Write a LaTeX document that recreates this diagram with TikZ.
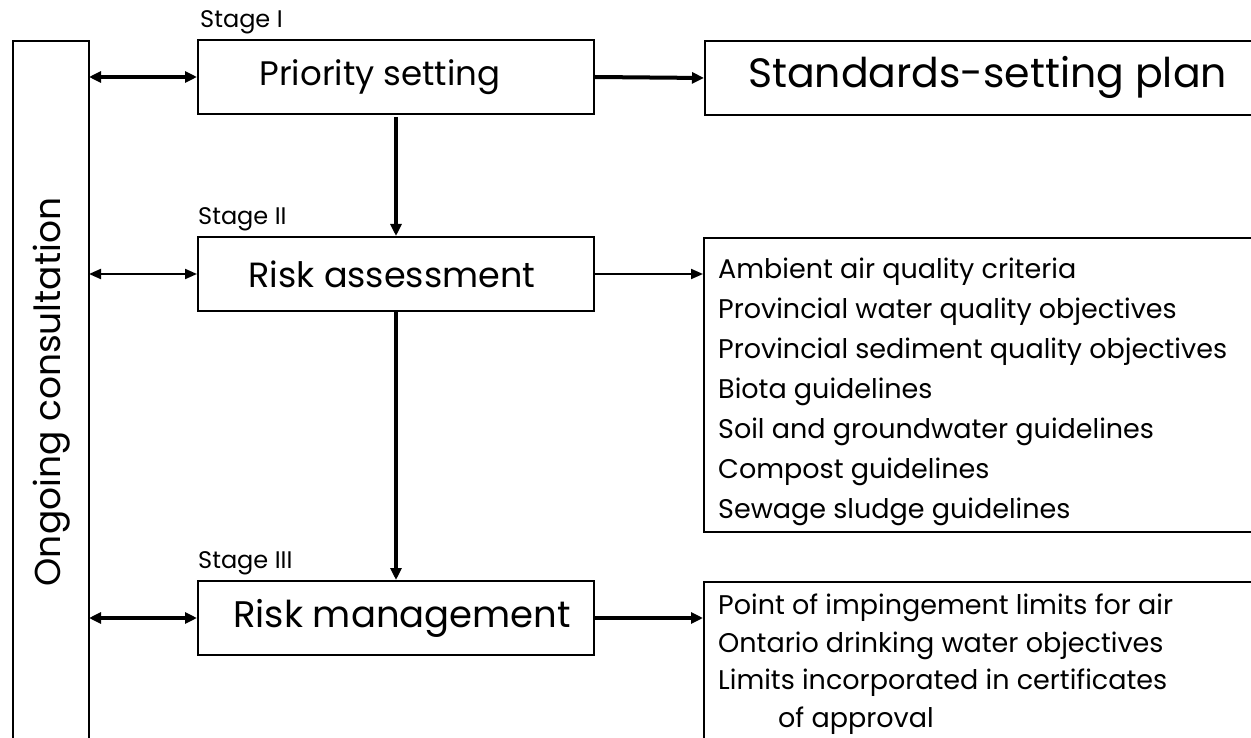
\documentclass[tikz,border=0pt]{standalone}
\usepackage{fontspec}
\setmainfont{Poppins}
\usetikzlibrary{arrows.meta}
\begin{document}
\begin{tikzpicture}[x=1pt,y=-1pt,
  boxline/.style={draw=black,line width=2pt},
  stagebox/.style={boxline,minimum width=396pt,minimum height=74pt,inner sep=0pt,font=\fontsize{34}{40}\selectfont},
  stagelabel/.style={anchor=south west,inner sep=0pt,font=\fontsize{24}{28}\selectfont},
  listtext/.style={anchor=north west,inner sep=0pt,align=left,font=\fontsize{27}{40}\selectfont},
  thickarrow/.style={line width=4pt,-{Triangle[length=12pt,width=11pt]}},
  thinarrow/.style={line width=2pt,-{Triangle[length=12pt,width=10pt]}},
  thickdouble/.style={line width=4pt,{Triangle[length=12pt,width=11pt]}-{Triangle[length=12pt,width=11pt]}},
  thindouble/.style={line width=2pt,{Triangle[length=12pt,width=10pt]}-{Triangle[length=12pt,width=10pt]}}
]
\useasboundingbox (0,0) rectangle (1251,738);
\clip (0,0) rectangle (1251,738);
\fill[white] (0,0) rectangle (1251,738);

% Ongoing consultation column
\node[boxline,anchor=north west,minimum width=76pt,minimum height=760pt,inner sep=0pt] (cons) at (12,40) {};
\node[rotate=90,font=\fontsize{36}{40}\selectfont,inner sep=0pt] (constext) at (52,392) {Ongoing consultation};
\coordinate (c1) at (89,77);
\coordinate (c2) at (89,274);
\coordinate (c3) at (89,618);

% stage boxes
\node[stagebox] (ps) at (396,77) {\hspace*{-32pt}Priority setting};
\node[stagebox,font=\fontsize{35}{40}\selectfont] (ra) at (396,274) {\hspace*{-8pt}Risk assessment};
\node[stagebox,font=\fontsize{37}{40}\selectfont] (rm) at (396,618) {\hspace*{12pt}Risk management};

\node[stagelabel] (s1) at (200,34) {Stage I};
\node[stagelabel] (s2) at (198,231) {Stage II};
\node[stagelabel] (s3) at (198,575) {Stage III};

% right boxes
\node[boxline,anchor=north west,minimum width=580pt,minimum height=74pt,inner sep=0pt] (ssp) at (704,40) {};
\node[anchor=west,inner sep=0pt,font=\fontsize{41}{46}\selectfont] (ssptext) at (748,77) {Standards-setting plan};

\node[boxline,anchor=north west,minimum width=580pt,minimum height=294pt,inner sep=0pt] (list1) at (703,237) {};
\node[listtext] (list1text) at (718,258) {Ambient air quality criteria\\
Provincial water quality objectives\\
Provincial sediment quality objectives\\
Biota guidelines\\
Soil and groundwater guidelines\\
Compost guidelines\\
Sewage sludge guidelines};

\node[boxline,anchor=north west,minimum width=580pt,minimum height=300pt,inner sep=0pt] (list2) at (703,581) {};
\node[listtext,font=\fontsize{27}{37.5}\selectfont] (list2text) at (718,594) {Point of impingement limits for air\\
Ontario drinking water objectives\\
Limits incorporated in certificates\\
\hspace*{60pt}of approval};

% connectors
\draw[thickdouble] (c1) -- (ps.west);
\draw[thindouble] (c2) -- (ra.west);
\draw[thickdouble] (c3) -- (rm.west);

\draw[thickarrow] (ps.east) -- (ssp.west);
\draw[thinarrow] (ra.east) -- (list1.west |- ra.east);
\draw[thickarrow] (rm.east) -- (list2.west |- rm.east);

\draw[thickarrow] ([yshift=-2pt]ps.south) -- (ra.north);
\draw[thickarrow] (ra.south) -- (rm.north);
\end{tikzpicture}
\end{document}
